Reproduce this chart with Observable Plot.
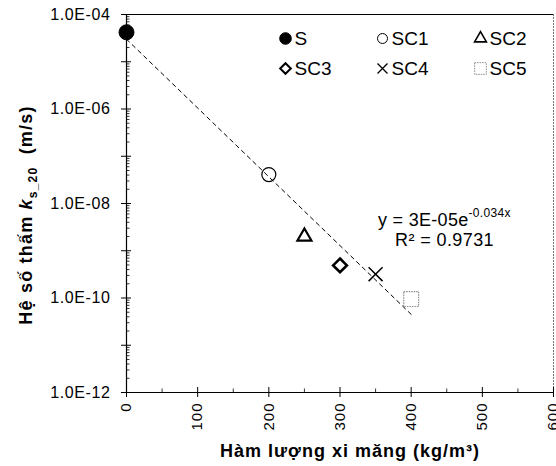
<!DOCTYPE html>
<html><head><meta charset="utf-8">
<script src="https://cdn.jsdelivr.net/npm/d3@7"></script>
<script src="https://cdn.jsdelivr.net/npm/@observablehq/plot@0.6"></script>
<style>body{margin:0;background:#fff} svg{overflow:visible}</style>
</head><body><div id="chart"></div>
<script>
// ---- data ----
const series = ["S", "SC1", "SC2", "SC3", "SC4", "SC5"];
const cement = [0, 200, 250, 300, 350, 400];                 // kg/m3
const permeability = [4.2e-5, 4.1e-8, 2.0e-9, 4.9e-10, 3.2e-10, 9.5e-11]; // m/s
const trendX = [0, 400];
const trendY = [3.0e-5, 4.5e-11];
const xTicks = [0, 100, 200, 300, 400, 500, 600];
const xMinor = [50, 150, 250, 350, 450, 550];
const yTicks = [1e-4, 1e-6, 1e-8, 1e-10, 1e-12];
const yTickLabels = ["1.0E-04", "1.0E-06", "1.0E-08", "1.0E-10", "1.0E-12"];
const equationMain = "y = 3E-05e";
const equationExp = "-0.034x";
const rSquared = "R² = 0.9731";
const xTitle = "Hàm lượng xi măng (kg/m³)";

// ---- styles ----
const style = {
  S:   {symbol: "circle",   r: 7.5, fill: "black", stroke: "black", sw: 1,   lr: 5.8, lsw: 1},
  SC1: {symbol: "circle",   r: 7,   fill: "none",  stroke: "black", sw: 1.2, lr: 5,   lsw: 1},
  SC2: {symbol: "triangle", r: 5.2, fill: "none",  stroke: "black", sw: 2.2, lr: 4.4, lsw: 1.6},
  SC3: {symbol: "diamond2", r: 6.2, fill: "none",  stroke: "black", sw: 2.6, lr: 4.8, lsw: 2},
  SC4: {symbol: "times",    r: 6.4, fill: "none",  stroke: "black", sw: 1.5, lr: 4.6, lsw: 1.3},
  SC5: {symbol: "square",   r: 8.4, fill: "none",  stroke: "#8c8c8c", sw: 1.2, lr: 6.6, lsw: 1, dash: "1.5,1"}
};
const legendMarkerX = [285, 382, 480];
const legendRowY = [38, 68];

const rows = series.map((s, i) => ({series: s, x: cement[i], y: permeability[i]}));
const trend = trendX.map((x, i) => ({x, y: trendY[i]}));

const decades = d3.range(-12, -3).map(p => Math.pow(10, p));
const yMinor = d3.scaleLog().domain([1e-12, 1e-4]).ticks()
  .filter(v => Math.abs(Math.log10(v) - Math.round(Math.log10(v))) > 1e-6);

const W = 556, H = 466, mL = 126, mT = 14, mR = 3, mB = 74;
const FW = W - mL - mR, FH = H - mT - mB;
const font = "Liberation Sans, Arial, sans-serif";

const marks = [
  Plot.ruleY([1e-4], {stroke: "black", strokeWidth: 1}),
  Plot.ruleX([600], {stroke: "#777", strokeWidth: 1, strokeDasharray: "2,1"}),
  Plot.line(trend, {x: "x", y: "y", stroke: "black", strokeWidth: 1, strokeDasharray: "4,4"}),
  // y axis ticks: outward at decades, inward at decades and minor values
  Plot.axisY(decades, {anchor: "left", tickSize: 5, tickFormat: () => "", label: null}),
  Plot.tickY(decades, {y: d => d, insetRight: FW - 5, stroke: "black"}),
  Plot.tickY(yMinor, {y: d => d, insetRight: FW - 3.5, stroke: "black", strokeWidth: 0.8}),
  Plot.axisY(yTicks, {anchor: "left", tickSize: 0, tickPadding: 16, fontSize: 16,
    tickFormat: d => yTickLabels[yTicks.indexOf(d)], label: null}),
  // x axis ticks
  Plot.axisX(xTicks, {anchor: "bottom", tickSize: 5, tickFormat: () => "", label: null}),
  Plot.tickX(xTicks, {x: d => d, insetTop: FH - 5, stroke: "black"}),
  Plot.tickX(xMinor, {x: d => d, insetTop: FH - 3.5, stroke: "black", strokeWidth: 0.8}),
  Plot.axisX(xTicks, {anchor: "bottom", tickSize: 0, tickPadding: 10, tickRotate: -90, fontSize: 15, label: null}),
  Plot.ruleX([0], {stroke: "black", strokeWidth: 1.2}),
  Plot.ruleY([1e-12], {stroke: "black", strokeWidth: 1.2})
];

// data markers
for (const s of series) {
  const st = style[s];
  marks.push(Plot.dot(rows.filter(d => d.series === s), {
    x: "x", y: "y", symbol: st.symbol, r: st.r, fill: st.fill, stroke: st.stroke,
    strokeWidth: st.sw, strokeDasharray: st.dash
  }));
}
// legend inside plot
series.forEach((s, i) => {
  const st = style[s];
  const col = i % 3, row = Math.floor(i / 3);
  const dx = legendMarkerX[col] - mL, dy = legendRowY[row] - mT;
  marks.push(Plot.dot([s], {frameAnchor: "top-left", dx, dy, symbol: st.symbol, r: st.lr,
    fill: st.fill, stroke: st.stroke, strokeWidth: st.lsw, strokeDasharray: st.dash}));
  marks.push(Plot.text([s], {frameAnchor: "top-left", dx: dx + 9, dy, text: d => d,
    textAnchor: "start", lineAnchor: "middle", fontSize: 19, fill: "black"}));
});

const chart = Plot.plot({
  width: W, height: H,
  marginLeft: mL, marginTop: mT, marginRight: mR, marginBottom: mB,
  style: {fontFamily: font, color: "black", background: "white", overflow: "visible"},
  x: {domain: [0, 600], axis: null},
  y: {type: "log", domain: [1e-12, 1e-4], axis: null},
  marks
});
document.getElementById("chart").appendChild(chart);

const svg = d3.select(chart);
svg.selectAll("g[aria-label='y-axis tick label'] text").attr("letter-spacing", "0.6");
svg.selectAll("g[aria-label='x-axis tick label'] text").attr("letter-spacing", "1");

// equation & R2
const eq = svg.append("text").attr("x", 378).attr("y", 226).attr("text-anchor", "start")
  .attr("font-family", font).attr("font-size", 18).attr("letter-spacing", "0.3").attr("fill", "black");
eq.append("tspan").text(equationMain);
eq.append("tspan").attr("dy", -9).attr("font-size", 12).text(equationExp);
svg.append("text").attr("x", 395).attr("y", 246).attr("text-anchor", "start")
  .attr("font-family", font).attr("font-size", 18).attr("letter-spacing", "0.4").attr("fill", "black").text(rSquared);

// axis titles
svg.append("text").attr("x", 350).attr("y", 457).attr("text-anchor", "middle")
  .attr("font-family", font).attr("font-size", 18).attr("font-weight", "bold")
  .attr("letter-spacing", "1").attr("fill", "black").text(xTitle);
const yt = svg.append("text").attr("transform", "translate(32,215) rotate(-90)")
  .attr("text-anchor", "middle").attr("font-family", font).attr("font-size", 18)
  .attr("font-weight", "bold").attr("letter-spacing", "1.2").attr("fill", "black");
yt.append("tspan").text("Hệ số thấm ");
yt.append("tspan").attr("font-style", "italic").text("k");
yt.append("tspan").attr("dy", 5).attr("font-size", 12).text("s_20");
yt.append("tspan").attr("dy", -5).text("  (m/s)");
</script>
</body></html>
